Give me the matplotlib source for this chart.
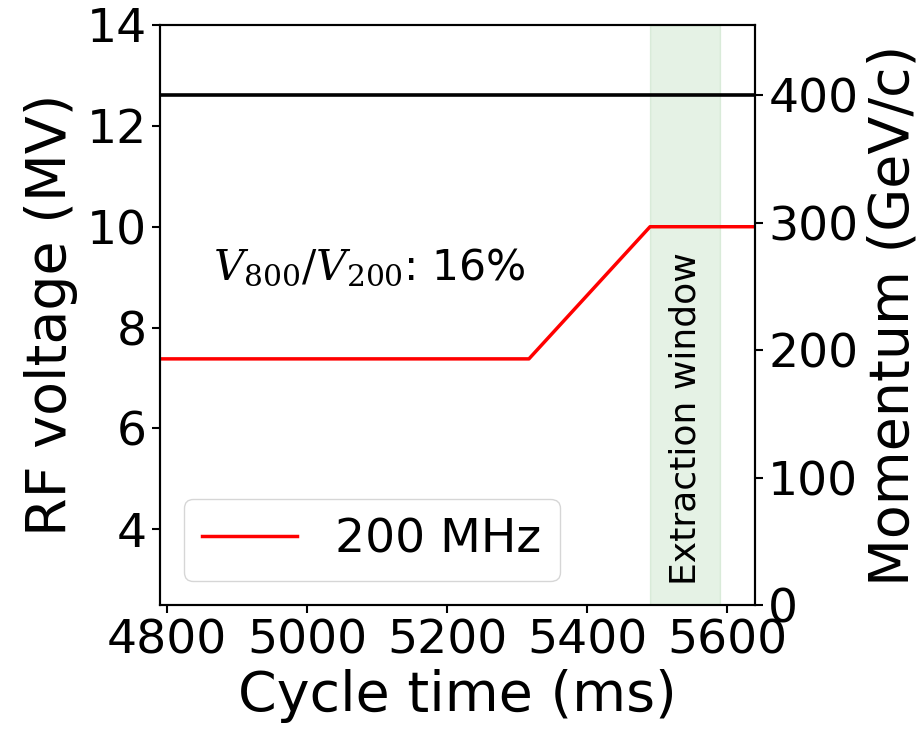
import matplotlib
matplotlib.use("Agg")
import matplotlib.pyplot as plt

plt.rcParams["font.family"] = ["DejaVu Sans"]
plt.rcParams["mathtext.fontset"] = "dejavuserif"

# RF voltage programme of the 200 MHz system (MV) versus cycle time (ms)
time_ms = [4790, 5317, 5490, 5640]
voltage_200 = [7.38, 7.38, 10.0, 10.0]

# Beam momentum (GeV/c) on the flat top
momentum_time = [4790, 5640]
momentum = [400, 400]

# Extraction window limits (ms)
extraction = [5490, 5590]

ratio_label = r"$V_{800}/V_{200}$: 16%"

fig = plt.figure(figsize=(9.2, 7.37), dpi=100)
ax = fig.add_axes([0.1739, 0.1791, 0.6468, 0.7870])
ax2 = ax.twinx()

ax.axvspan(extraction[0], extraction[1], color="green", alpha=0.1)
ax.plot(time_ms, voltage_200, color="red", lw=2.5, label="200 MHz")
ax2.plot(momentum_time, momentum, color="black", lw=2.6)

ax.set_xlim(4790, 5640)
ax.set_ylim(2.5, 14)
ax2.set_ylim(0, 455)
ax.set_xticks([4800, 5000, 5200, 5400, 5600])
ax.set_yticks([4, 6, 8, 10, 12, 14])
ax2.set_yticks([0, 100, 200, 300, 400])

for a in (ax, ax2):
    a.tick_params(labelsize=34, length=6, width=1.5)
    for s in a.spines.values():
        s.set_linewidth(1.5)

ax.set_xlabel("Cycle time (ms)", fontsize=40, labelpad=4)
ax.set_ylabel("RF voltage (MV)", fontsize=40, labelpad=6)
ax2.set_ylabel("Momentum (GeV/c)", fontsize=40, labelpad=6)

ax.text(4866, 9.2, ratio_label, fontsize=30.5, va="center", ha="left")
ax.text(sum(extraction) / 2, 6.2, "Extraction window", rotation=90,
        fontsize=26, ha="center", va="center")

ax.legend(loc="lower left", fontsize=34, handlelength=2)

fig.savefig("out.png", dpi=100)
